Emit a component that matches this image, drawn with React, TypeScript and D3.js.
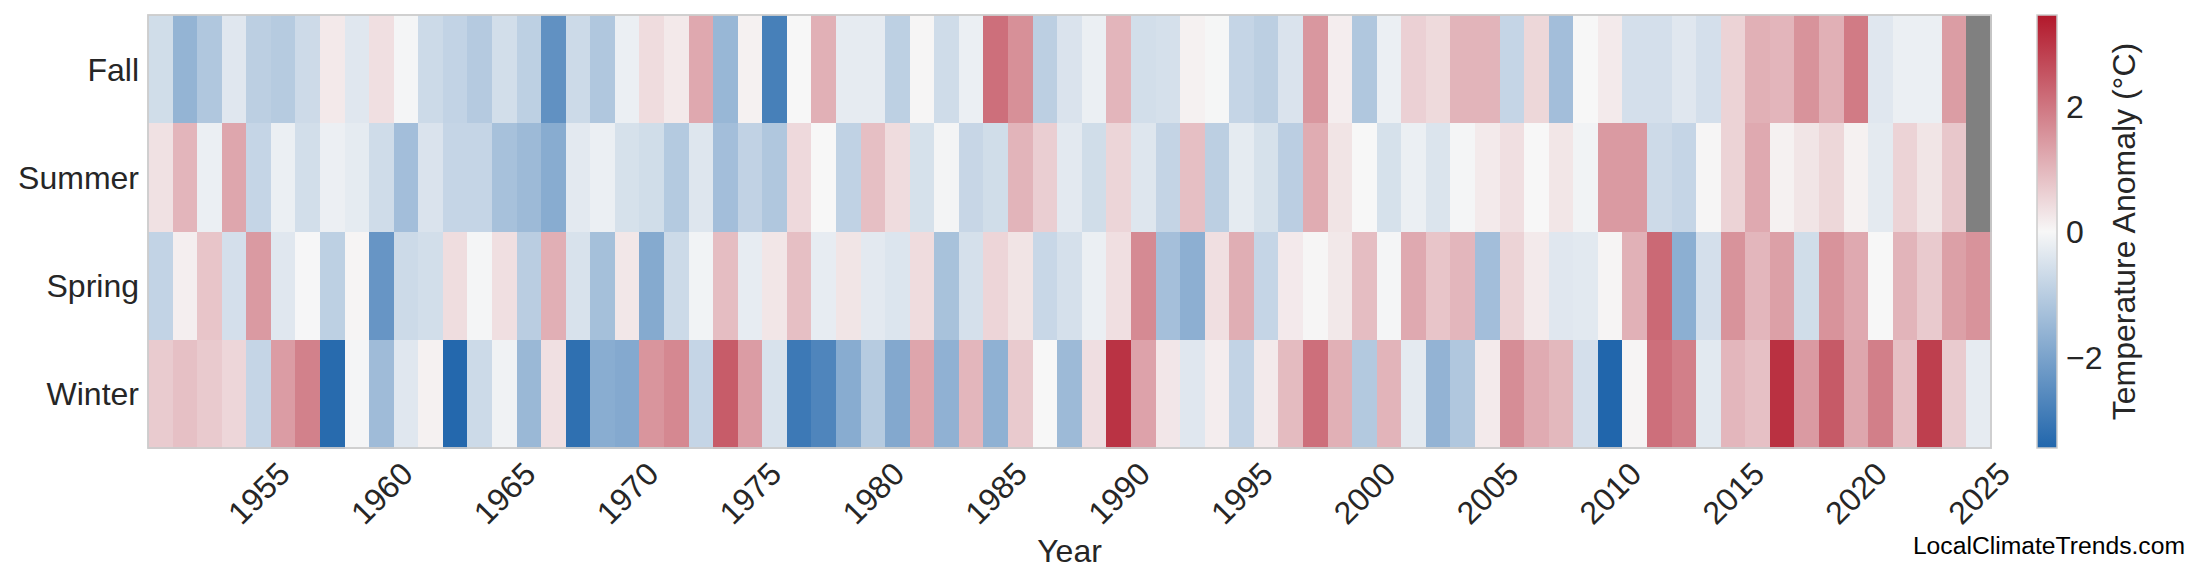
import React from "react";
import * as d3 from "d3";

const years: number[] = d3.range(1951, 2026);
const seasons = ["Fall", "Summer", "Spring", "Winter"];

const fall: (number | null)[] = [
  -0.63, -1.6, -1.14, -0.37, -0.95, -1.05, -0.68, 0.22, -0.37, 0.37,
  -0.05, -0.7, -0.85, -1.06, -0.6, -0.93, -2.42, -0.7, -1.14, -0.19,
  0.42, 0.22, 1.22, -1.53, 0.1, -2.84, 0.0, 1.1, -0.28, -0.28,
  -0.93, 0.03, -0.64, -0.19, 2.1, 1.6, -0.95, -0.47, -0.2, 1.02,
  -0.6, -0.55, 0.1, -0.03, -0.8, -0.95, -0.47, 1.49, 0.15, -1.14,
  -0.19, 0.6, 0.45, 1.03, 1.03, -0.8, 0.5, -1.35, 0.0, 0.2,
  -0.57, -0.57, -0.37, -0.57, 0.55, 1.1, 1.02, 1.55, 1.1, 1.92,
  -0.37, -0.19, -0.19, 1.4, null,
];

const summer: (number | null)[] = [
  0.34, 1.02, -0.19, 1.25, -0.8, -0.2, -0.6, -0.18, -0.29, -0.64,
  -1.35, -0.47, -0.8, -0.8, -1.29, -1.45, -1.79, -0.33, -0.2, -0.53,
  -0.63, -1.08, -0.4, -1.35, -0.87, -1.14, 0.46, 0.0, -0.88, 0.87,
  0.42, -0.53, -0.07, -0.78, -0.63, 1.04, 0.63, -0.33, -0.63, 0.53,
  -0.4, -0.83, 0.87, -0.95, -0.29, -0.53, -0.97, 1.16, 0.3, 0.0,
  -0.53, -0.2, -0.45, -0.05, 0.2, 0.37, 0.0, 0.27, -0.1, 1.44,
  1.44, -0.68, -0.8, 0.03, 0.55, 1.2, 0.1, 0.28, 0.5, 0.1,
  -0.3, 0.55, 0.28, 0.75, null,
];

const spring: (number | null)[] = [
  -0.85, 0.14, 0.77, -0.56, 1.44, -0.37, -0.02, -0.93, 0.05, -2.32,
  -0.7, -0.6, 0.4, -0.05, 0.37, -0.99, 1.11, -0.5, -1.32, 0.25,
  -1.84, -0.69, -0.1, 0.9, -0.25, 0.27, 0.87, -0.25, 0.28, -0.33,
  -0.43, 0.42, -1.27, -0.55, 0.52, 0.3, -0.75, -0.55, -0.19, 0.37,
  1.69, -1.33, -1.71, 0.37, 1.13, -0.8, 0.21, 0.03, 0.23, 0.9,
  -0.05, 1.2, 0.77, 1.0, -1.35, 0.55, 0.2, -0.37, -0.34, 0.05,
  1.08, 2.2, -1.72, -0.56, 1.55, 1.0, 1.35, -0.63, 1.55, 1.2,
  0.0, 1.03, 0.7, 1.35, 1.55,
];

const winter: (number | null)[] = [
  0.68, 0.85, 0.7, 0.51, -0.8, 1.41, 1.83, -3.34, -0.05, -1.42,
  -0.37, 0.1, -3.4, -0.69, -0.12, -1.5, 0.35, -3.22, -1.77, -1.85,
  1.52, 1.72, -0.8, 2.4, 1.41, -0.5, -3.0, -2.71, -1.79, -1.05,
  -1.87, 1.27, -1.66, 1.0, -1.67, 0.7, 0.0, -1.45, 0.38, 3.03,
  1.31, 0.26, -0.37, 0.15, -0.85, 0.2, 0.93, 2.1, 1.1, -1.1,
  1.04, -0.3, -1.62, -1.14, 0.2, 1.64, 1.17, 0.98, -0.56, -3.45,
  0.05, 2.1, 1.86, -0.34, 1.0, 0.85, 3.07, 1.44, 2.43, 1.25,
  1.86, 0.87, 2.85, 0.68, -0.28,
];

const seasonValues: Record<string, (number | null)[]> = {
  Fall: fall,
  Summer: summer,
  Spring: spring,
  Winter: winter,
};

const xTickYears = [1955, 1960, 1965, 1970, 1975, 1980, 1985, 1990, 1995, 2000, 2005, 2010, 2015, 2020, 2025];
const cbTicks = [-2, 0, 2];
const vmin = -3.45;
const vmax = 3.45;

const W = 2200;
const H = 585;
const left = 148;
const right = 1991;
const top = 15;
const bottom = 448;
const cbX = 2037;
const cbW = 20;

const FONT = "'Liberation Sans', Arial, Helvetica, sans-serif";
const TXT = "#262626";

export default function App() {
  const x = d3.scaleBand<number>().domain(years).range([left, right]).padding(0);
  const y = d3.scaleBand<string>().domain(seasons).range([top, bottom]).padding(0);
  const color = d3
    .scaleLinear<string>()
    .domain([vmin, 0, vmax])
    .range(["#2166ac", "#f7f7f7", "#b2182b"])
    .interpolate(d3.interpolateRgb)
    .clamp(true);
  const cbScale = d3.scaleLinear().domain([vmin, vmax]).range([bottom, top]);

  const cells: React.ReactNode[] = [];
  seasons.forEach((s) => {
    const vals = seasonValues[s];
    years.forEach((yr, i) => {
      const v = vals[i];
      cells.push(
        <rect
          key={`${s}-${yr}`}
          x={x(yr)}
          y={y(s)}
          width={x.bandwidth() + 0.5}
          height={y.bandwidth() + 0.5}
          fill={v === null ? "#808080" : color(v)}
        />
      );
    });
  });

  return (
    <svg
      width={W}
      height={H}
      style={{ position: "absolute", left: 0, top: 0, background: "#fff" }}
      fontFamily={FONT}
    >
      <defs>
        <linearGradient id="cbgrad" x1="0" y1="1" x2="0" y2="0">
          <stop offset="0%" stopColor="#2166ac" />
          <stop offset="50%" stopColor="#f7f7f7" />
          <stop offset="100%" stopColor="#b2182b" />
        </linearGradient>
      </defs>
      <g shapeRendering="crispEdges">{cells}</g>
      <rect
        x={left}
        y={top}
        width={right - left}
        height={bottom - top}
        fill="none"
        stroke="#cccccc"
        strokeWidth={1.8}
      />
      {seasons.map((s) => (
        <text
          key={s}
          x={left - 9}
          y={(y(s) as number) + y.bandwidth() / 2}
          dy="0.36em"
          textAnchor="end"
          fontSize={32}
          fill={TXT}
        >
          {s}
        </text>
      ))}
      {xTickYears.map((yr) => {
        const cx = (x(yr) as number) + x.bandwidth() / 2;
        const cy = 493;
        return (
          <text
            key={yr}
            transform={`translate(${cx},${cy}) rotate(-45)`}
            dy="0.36em"
            textAnchor="middle"
            fontSize={32}
            fill={TXT}
          >
            {yr}
          </text>
        );
      })}
      <text x={(left + right) / 2} y={562} textAnchor="middle" fontSize={32} fill={TXT}>
        Year
      </text>
      <rect x={cbX} y={top} width={cbW} height={bottom - top} fill="url(#cbgrad)" stroke="#cccccc" strokeWidth={1.5} />
      {cbTicks.map((t) => (
        <text key={t} x={cbX + cbW + 9} y={cbScale(t)} dy="0.36em" fontSize={32} fill={TXT}>
          {t < 0 ? `\u2212${Math.abs(t)}` : `${t}`}
        </text>
      ))}
      <text
        transform={`translate(2135,${(top + bottom) / 2}) rotate(-90)`}
        textAnchor="middle"
        fontSize={32}
        fill={TXT}
      >
        Temperature Anomaly (°C)
      </text>
      <text x={2185} y={554} textAnchor="end" fontSize={24.7} fill="#000">
        LocalClimateTrends.com
      </text>
    </svg>
  );
}
